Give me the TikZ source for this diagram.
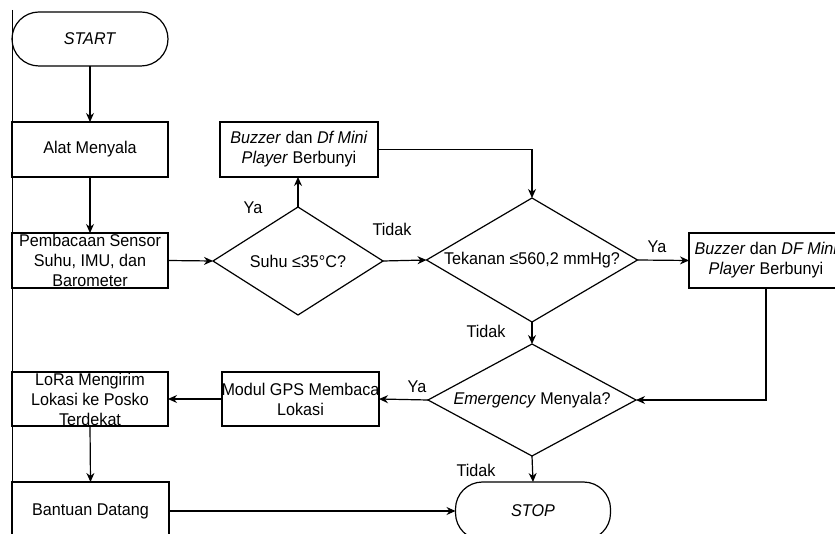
\documentclass[tikz,border=0pt]{standalone}
\usepackage{fontspec}
\setmainfont{Liberation Sans}[FakeStretch=0.95]
\usetikzlibrary{shapes.geometric,arrows.meta}
\tikzset{
  base/.style={draw, line width=1.2pt, inner sep=0pt, outer sep=0pt},
  boxnode/.style={base, rectangle},
  term/.style={base, rectangle, rounded corners=27pt},
  decision/.style={base, diamond},
  txt/.style={align=center, inner sep=0pt},
  lbl/.style={inner sep=0pt},
  conn/.style={line width=1.2pt, -{Stealth[length=9pt,width=8pt]}},
  plain/.style={line width=1pt}
}
\begin{document}
\begin{tikzpicture}[x=1pt,y=-1pt,font=\fontsize{17}{20}\selectfont]
\useasboundingbox (0,0) rectangle (835,534);
\clip (0,0) rectangle (835,534);
\fill[white] (0,0) rectangle (835,534);
\coordinate (lt) at (12,10);
\coordinate (lb) at (12,540);
\draw[plain] (lt) -- (lb);

\node[term, minimum width=156, minimum height=54,
  label={[txt]center:\textit{START}}] (start) at (90,39) {};
\node[boxnode, minimum width=156, minimum height=55,
  label={[txt]center:Alat Menyala}] (alat) at (90,149.5) {};
\node[boxnode, minimum width=156, minimum height=55,
  label={[txt]center:Pembacaan Sensor\\Suhu, IMU, dan\\Barometer}] (pemb) at (90,260.5) {};
\node[decision, minimum width=170, minimum height=108,
  label={[txt]center:Suhu ≤35°C?}] (suhu) at (298,261) {};
\node[boxnode, minimum width=158, minimum height=55,
  label={[txt]center:\textit{Buzzer} dan \textit{Df Mini}\\\textit{Player} Berbunyi}] (buz1) at (299,149.5) {};
\node[decision, minimum width=211, minimum height=124,
  label={[txt]center:Tekanan ≤560,2 mmHg?}] (tek) at (532,260) {};
\node[boxnode, minimum width=154, minimum height=55,
  label={[txt]center:\textit{Buzzer} dan \textit{DF Mini}\\\textit{Player} Berbunyi}] (buz2) at (766,260.5) {};
\node[decision, minimum width=208, minimum height=112,
  label={[txt]center:\textit{Emergency} Menyala?}] (emg) at (532,400) {};
\node[boxnode, minimum width=157, minimum height=54,
  label={[txt]center:Modul GPS Membaca\\Lokasi}] (gps) at (300.5,399) {};
\node[boxnode, minimum width=156, minimum height=54,
  label={[txt]center:LoRa Mengirim\\Lokasi ke Posko\\Terdekat}] (lora) at (90,399) {};
\node[boxnode, minimum width=157, minimum height=58,
  label={[txt]center:Bantuan Datang}] (bant) at (90.5,511) {};
\node[term, minimum width=155, minimum height=58,
  label={[txt]center:\textit{STOP}}] (stop) at (533,511) {};

\draw[conn] (start) -- (alat);
\draw[conn] (alat) -- (pemb);
\draw[conn] (pemb.east) -- (suhu.west);
\draw[conn] (suhu.north) -- (suhu.north |- buz1.south);
\draw[conn] (buz1.east) -- (tek.north |- buz1.east) -- (tek.north);
\draw[conn] (suhu.east) -- (tek.west);
\draw[conn] (tek.east) -- (buz2.west);
\draw[conn] (tek.south) -- (emg.north);
\draw[conn] (buz2.south) -- (buz2.south |- emg.east) -- (emg.east);
\draw[conn] (emg.west) -- (gps.east);
\draw[conn] (gps.west) -- (lora.east);
\draw[conn] (lora.south) -- (bant.north);
\draw[conn] (bant.east) -- (stop.west);
\draw[conn] (emg.south) -- (stop.north);

\node[lbl] (ya1) at (253,208) {Ya};
\node[lbl] (tidak1) at (392,229) {Tidak};
\node[lbl] (ya2) at (657,247) {Ya};
\node[lbl] (tidak2) at (486,331) {Tidak};
\node[lbl] (ya3) at (417,387) {Ya};
\node[lbl] (tidak3) at (476,470) {Tidak};
\end{tikzpicture}
\end{document}
